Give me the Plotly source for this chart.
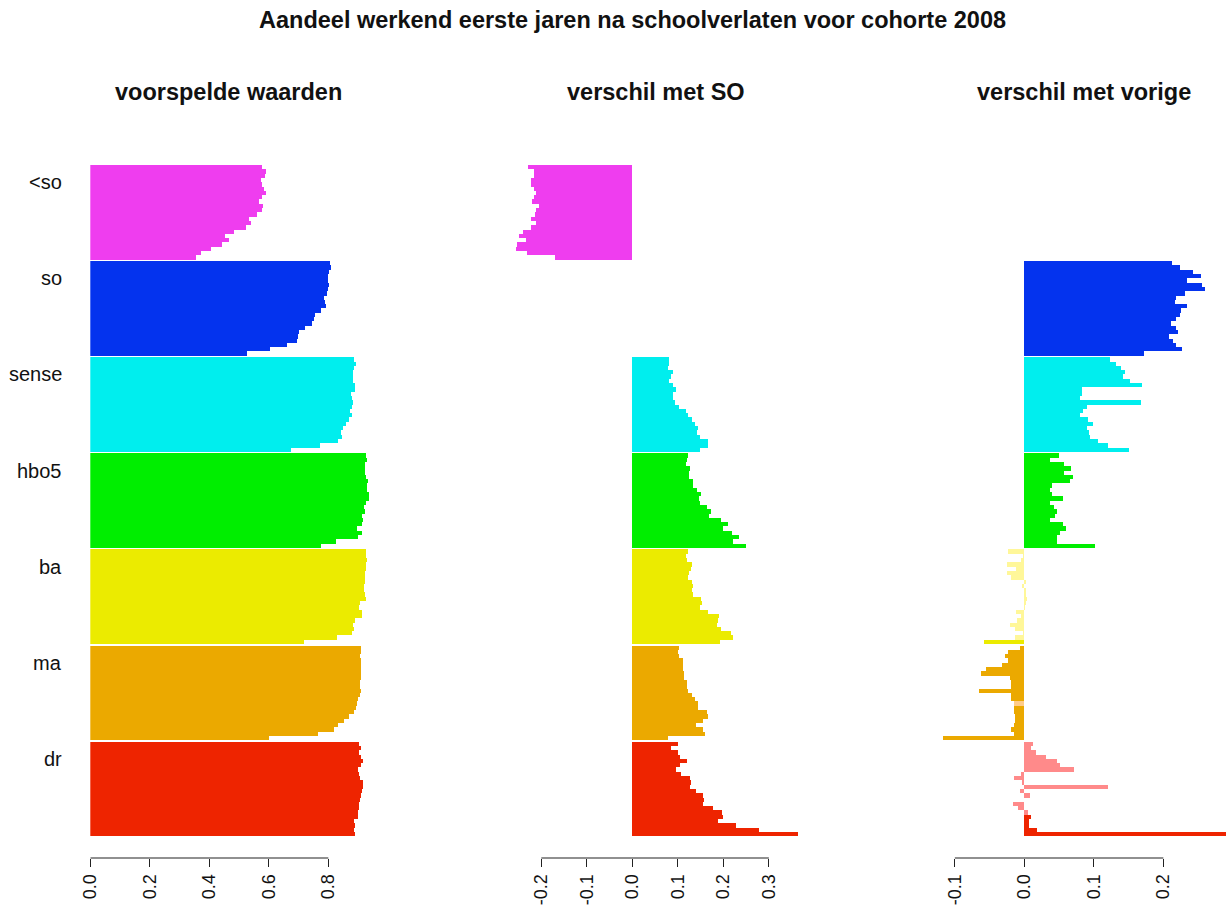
import plotly.graph_objects as go

# figure size in px
W, H = 1227, 923

groups = ["<so", "so", "sense", "hbo5", "ba", "ma", "dr"]
full_colors = ["#EF3DEF", "#0433EE", "#00EEEE", "#00EE00", "#EBEB00", "#EBA900", "#EE2400"]
pale_colors = ["#F8A0F8", "#8FA3F8", "#99F8F8", "#99F899", "#FFF799", "#FFCC88", "#FF8A8A"]

# panel 1: voorspelde waarden (22 time points per group, top to bottom)
pred_lt_so = [0.577, 0.592, 0.588, 0.574, 0.577, 0.585, 0.592, 0.577, 0.569, 0.583, 0.577,
              0.560, 0.534, 0.540, 0.523, 0.484, 0.454, 0.467, 0.443, 0.407, 0.373, 0.356]
pred_so = [0.807, 0.810, 0.804, 0.799, 0.801, 0.802, 0.801, 0.796, 0.788, 0.790, 0.792,
           0.775, 0.756, 0.753, 0.746, 0.723, 0.701, 0.700, 0.696, 0.662, 0.606, 0.528]
pred_sense = [0.889, 0.893, 0.886, 0.884, 0.883, 0.883, 0.892, 0.891, 0.876, 0.880, 0.885,
              0.880, 0.875, 0.880, 0.872, 0.862, 0.849, 0.843, 0.846, 0.833, 0.773, 0.676]
pred_hbo5 = [0.928, 0.931, 0.925, 0.925, 0.925, 0.928, 0.934, 0.931, 0.931, 0.938, 0.938,
             0.928, 0.922, 0.924, 0.915, 0.918, 0.914, 0.899, 0.914, 0.900, 0.828, 0.775]
pred_ba = [0.928, 0.928, 0.931, 0.928, 0.928, 0.925, 0.925, 0.924, 0.921, 0.920, 0.924,
           0.928, 0.909, 0.904, 0.914, 0.914, 0.892, 0.885, 0.888, 0.882, 0.829, 0.719]
pred_ma = [0.912, 0.912, 0.909, 0.912, 0.912, 0.912, 0.912, 0.912, 0.909, 0.909, 0.912,
           0.909, 0.900, 0.896, 0.893, 0.888, 0.870, 0.855, 0.835, 0.819, 0.765, 0.603]
pred_dr = [0.904, 0.910, 0.904, 0.912, 0.918, 0.910, 0.900, 0.904, 0.909, 0.917, 0.918,
           0.913, 0.911, 0.909, 0.904, 0.904, 0.902, 0.900, 0.886, 0.892, 0.888, 0.891]

# panel 2: verschil met SO
diff_lt_so = [-0.228, -0.215, -0.215, -0.223, -0.221, -0.215, -0.210, -0.215, -0.219, -0.205, -0.210,
              -0.214, -0.223, -0.211, -0.221, -0.239, -0.249, -0.233, -0.252, -0.256, -0.230, -0.169]
diff_so = None
diff_sense = [0.081, 0.081, 0.080, 0.089, 0.085, 0.081, 0.089, 0.097, 0.089, 0.091, 0.095,
              0.104, 0.119, 0.122, 0.132, 0.138, 0.144, 0.143, 0.149, 0.168, 0.166, 0.149]
diff_hbo5 = [0.123, 0.121, 0.119, 0.127, 0.126, 0.126, 0.134, 0.135, 0.143, 0.151, 0.147,
             0.149, 0.164, 0.173, 0.169, 0.195, 0.212, 0.200, 0.219, 0.236, 0.221, 0.250]
diff_ba = [0.122, 0.119, 0.121, 0.132, 0.129, 0.125, 0.123, 0.132, 0.134, 0.132, 0.133,
           0.151, 0.153, 0.149, 0.168, 0.191, 0.189, 0.187, 0.195, 0.217, 0.223, 0.193]
diff_ma = [0.103, 0.101, 0.104, 0.111, 0.113, 0.111, 0.114, 0.115, 0.121, 0.120, 0.122,
           0.132, 0.139, 0.145, 0.145, 0.165, 0.166, 0.155, 0.141, 0.155, 0.160, 0.078]
diff_dr = [0.100, 0.086, 0.102, 0.105, 0.121, 0.105, 0.097, 0.108, 0.127, 0.130, 0.127,
           0.141, 0.155, 0.158, 0.155, 0.179, 0.197, 0.201, 0.190, 0.228, 0.280, 0.365]

# panel 3: verschil met vorige
prev_lt_so = None
prev_so = [0.213, 0.224, 0.243, 0.254, 0.235, 0.256, 0.260, 0.232, 0.219, 0.217, 0.235,
           0.226, 0.225, 0.218, 0.212, 0.218, 0.222, 0.208, 0.215, 0.218, 0.227, 0.172]
prev_sense = [0.124, 0.133, 0.140, 0.146, 0.143, 0.152, 0.170, 0.084, 0.084, 0.081, 0.169,
              0.091, 0.085, 0.080, 0.092, 0.099, 0.091, 0.093, 0.095, 0.106, 0.121, 0.151]
prev_hbo5 = [0.051, 0.037, 0.057, 0.068, 0.058, 0.070, 0.066, 0.040, 0.038, 0.040, 0.056,
             0.038, 0.043, 0.047, 0.044, 0.037, 0.056, 0.061, 0.052, 0.047, 0.047, 0.102]
prev_ba = [-0.0225, -0.001, -0.004, -0.024, -0.012, -0.024, -0.018, 0.0015, -0.0015, 0.0025, 0.003,
           0.005, 0.0025, 0.001, -0.0115, -0.0045, -0.0095, -0.0195, -0.0125, -0.0005, -0.0125, -0.058]
prev_ma = [-0.006, -0.0235, -0.027, -0.0235, -0.031, -0.054, -0.062, -0.020, -0.019, -0.018, -0.065,
           -0.019, -0.018, -0.015, -0.014, -0.015, -0.013, -0.013, -0.014, -0.018, -0.015, -0.1165]
prev_dr = [0.0125, 0.0096, 0.0173, 0.0317, 0.047, 0.0518, 0.0724, -0.0038, -0.0144, -0.0029, 0.1204,
           -0.0058, 0.0086, 0.0, -0.0158, -0.0086, 0.0058, 0.010, 0.0072, 0.0072, 0.0187, 0.2906]

# 1 = full colour, 0 = pale (panel 3 only)
sig_so = [1, 1, 1, 1, 1, 1, 1, 1, 1, 1, 1, 1, 1, 1, 1, 1, 1, 1, 1, 1, 1, 1]
sig_sense = [1, 1, 1, 1, 1, 1, 1, 1, 1, 1, 1, 1, 1, 1, 1, 1, 1, 1, 1, 1, 1, 1]
sig_hbo5 = [1, 1, 1, 1, 1, 1, 1, 1, 1, 1, 1, 1, 1, 1, 1, 1, 1, 1, 1, 1, 1, 1]
sig_ba = [0, 0, 0, 0, 0, 0, 0, 0, 0, 0, 0, 0, 0, 0, 0, 0, 0, 0, 0, 0, 0, 1]
sig_ma = [1, 1, 1, 1, 1, 1, 1, 1, 1, 1, 1, 1, 1, 0, 1, 1, 1, 1, 1, 1, 1, 1]
sig_dr = [0, 0, 0, 0, 0, 0, 0, 0, 0, 0, 0, 0, 0, 0, 0, 0, 0, 1, 1, 1, 1, 1]

panel1 = [pred_lt_so, pred_so, pred_sense, pred_hbo5, pred_ba, pred_ma, pred_dr]
panel2 = [diff_lt_so, diff_so, diff_sense, diff_hbo5, diff_ba, diff_ma, diff_dr]
panel3 = [prev_lt_so, prev_so, prev_sense, prev_hbo5, prev_ba, prev_ma, prev_dr]
sig3 = [None, sig_so, sig_sense, sig_hbo5, sig_ba, sig_ma, sig_dr]

FONT = "Liberation Sans, Arial, Helvetica, sans-serif"
PITCH = 22.35          # bar slots per group (22 bars + small gap)
BAR_PX = 4.3           # pixel height of one bar
TOP_PX, AXIS_PX = 165, 858

# small horizontal correction seen in the photographed page
X_OFF, X_SCALE = 9.7, 0.9918


def sx(px):
    return (px - X_OFF) / X_SCALE


y_lo = 1 - AXIS_PX / H
y_hi = 1 - TOP_PX / H
y_range = [-0.5 + (AXIS_PX - TOP_PX) / BAR_PX, -0.5]

fig = go.Figure()


def add_panel(series, flags, xa, ya):
    for g, vals in enumerate(series):
        if vals is None:
            continue
        ys = [g * PITCH + i for i in range(len(vals))]
        if flags is None or flags[g] is None:
            cols = full_colors[g]
        else:
            cols = [full_colors[g] if f else pale_colors[g] for f in flags[g]]
        fig.add_trace(go.Bar(x=vals, y=ys, orientation="h", width=1,
                             marker=dict(color=cols, line=dict(width=0)),
                             xaxis=xa, yaxis=ya, showlegend=False,
                             name=groups[g], hoverinfo="x+name"))


add_panel(panel1, None, "x", "y")
add_panel(panel2, None, "x2", "y2")
add_panel(panel3, sig3, "x3", "y3")

# pixel layout of each panel: (left px, right px, zero px, px per unit)
panels = [(90, 372, 90, 297.5), (505, 805, 632, 455.0), (935, 1227, 1024, 695.0)]
ticks = [[0.0, 0.2, 0.4, 0.6, 0.8], [-0.2, -0.1, 0.0, 0.1, 0.2, 0.3], [-0.1, 0.0, 0.1, 0.2]]

axes = {}
shapes = []
for k, ((l, r, z, s), tv) in enumerate(zip(panels, ticks)):
    sfx = "" if k == 0 else str(k + 1)
    dl, dr_ = max(sx(l), 0), min(sx(r), W)
    zz, ss = sx(z), s / X_SCALE
    axes["xaxis" + sfx] = dict(
        domain=[dl / W, dr_ / W], range=[(dl - zz) / ss, (dr_ - zz) / ss], anchor="y" + sfx,
        tickvals=tv, ticktext=["%.1f" % t for t in tv], tickangle=-90,
        ticks="outside", ticklen=8, tickwidth=1, tickcolor="#222",
        showline=False, showgrid=False, zeroline=False,
        tickfont=dict(family=FONT, size=18, color="#111"))
    axes["yaxis" + sfx] = dict(domain=[y_lo, y_hi], range=y_range, anchor="x" + sfx,
                               visible=False, fixedrange=True)
    shapes.append(dict(type="line", xref="x" + sfx, yref="paper", x0=tv[0], x1=tv[-1],
                       y0=y_lo, y1=y_lo, line=dict(color="#222", width=1.2)))

annotations = [
    dict(text="<b>Aandeel werkend eerste jaren na schoolverlaten voor cohorte 2008</b>",
         x=sx(632) / W, y=1 - 20 / H, xref="paper", yref="paper", showarrow=False,
         xanchor="center", yanchor="middle", font=dict(family=FONT, size=23.5, color="#111")),
]
for txt, cx in [("voorspelde waarden", 228), ("verschil met SO", 656), ("verschil met vorige", 1084)]:
    annotations.append(dict(text="<b>%s</b>" % txt, x=sx(cx) / W, y=1 - 92 / H, xref="paper",
                            yref="paper", showarrow=False, xanchor="center", yanchor="middle",
                            font=dict(family=FONT, size=23.5, color="#111")))
for g, name in enumerate(groups):
    annotations.append(dict(text=name, x=sx(64) / W, y=g * PITCH + 3.5, xref="paper", yref="y",
                            showarrow=False, xanchor="right", yanchor="middle",
                            font=dict(family=FONT, size=20, color="#111")))

fig.update_layout(width=W, height=H, margin=dict(l=0, r=0, t=0, b=0),
                  paper_bgcolor="white", plot_bgcolor="white",
                  barmode="overlay", bargap=0, shapes=shapes, annotations=annotations,
                  **axes)

# drop the default 8px page margin so the figure sits at the window origin
fig.write_html("out.html", config={"displayModeBar": False},
               post_script="document.body.style.margin='0';")
